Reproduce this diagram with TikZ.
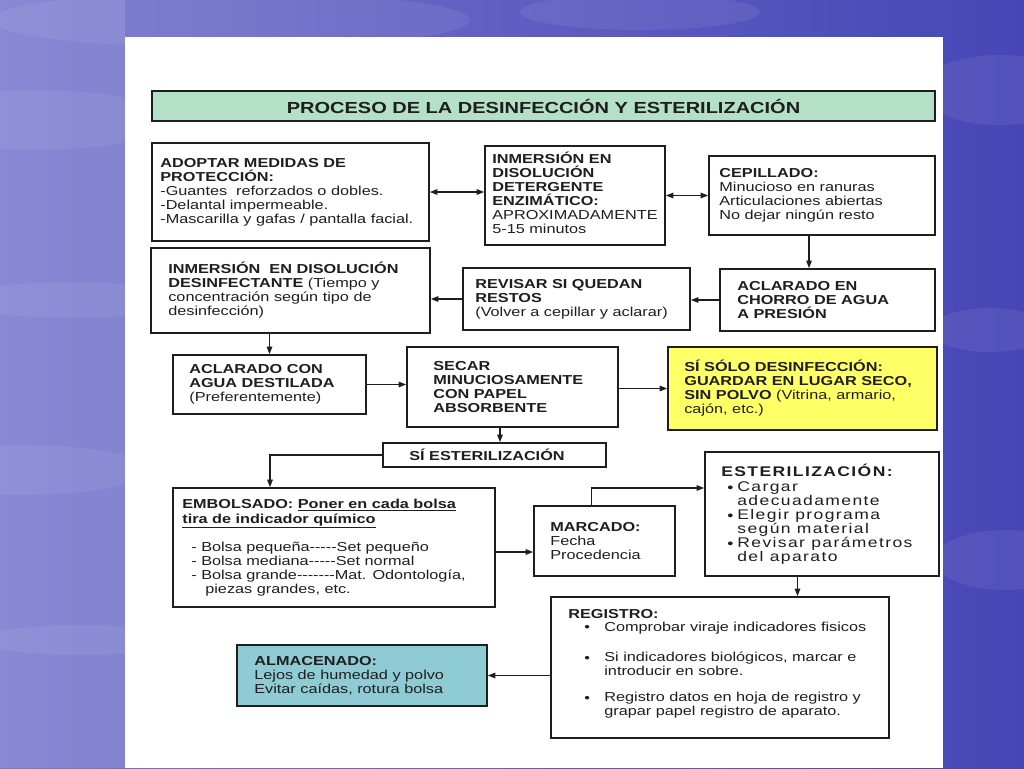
\documentclass[tikz,border=0pt]{standalone}
\usepackage{fontspec}
\usepackage{graphicx}
\setmainfont{Liberation Sans}[FakeStretch=1.25]
\newfontfamily\mfont{Liberation Sans}[FakeStretch=1.25,LetterSpace=10]
\usetikzlibrary{arrows.meta}
\definecolor{bgdeep}{RGB}{70,70,182}
\definecolor{bglight}{RGB}{120,120,206}
\definecolor{titlegreen}{RGB}{180,224,200}
\definecolor{boxyellow}{RGB}{255,255,102}
\definecolor{boxteal}{RGB}{143,203,212}
\definecolor{ink}{RGB}{30,30,30}
\newcommand{\bulM}{\makebox[10pt][l]{\raisebox{-0.8pt}{\textbullet}}}
\newcommand{\bulN}{\makebox[20pt][l]{\raisebox{-0.8pt}{\textbullet}}}
\begin{document}
\begin{tikzpicture}[x=1pt,y=-1pt,
  box/.style={draw=ink, line width=1.7pt, fill=white, inner sep=0pt},
  txt/.style={inner sep=0pt, align=left, anchor=west, text=ink,
     font=\fontsize{13}{14}\selectfont},
  conn/.style={draw=ink, line width=1.3pt, -{Triangle[length=7.5pt,width=5.5pt]}},
  dconn/.style={draw=ink, line width=1.3pt, {Triangle[length=7.5pt,width=5.5pt]}-{Triangle[length=7.5pt,width=5.5pt]}},
  streak/.style={white, opacity=0.07}]
\useasboundingbox (0,0) rectangle (1024,768);
% background
\shade[left color=bglight, right color=bgdeep] (0,0) rectangle (1024,768);
\fill[white, opacity=0.12] (0,0) rectangle (125,768);
\fill[streak] (30,120) ellipse [x radius=140, y radius=30];
\fill[streak] (70,300) ellipse [x radius=110, y radius=18];
\fill[streak] (20,470) ellipse [x radius=130, y radius=25];
\fill[streak] (80,640) ellipse [x radius=100, y radius=15];
\fill[streak] (230,20) ellipse [x radius=240, y radius=28];
\fill[streak] (640,12) ellipse [x radius=120, y radius=18];
\fill[streak] (1000,90) ellipse [x radius=80, y radius=35];
\fill[streak] (990,330) ellipse [x radius=60, y radius=22];
\fill[streak] (1005,560) ellipse [x radius=70, y radius=30];
% panel
\fill[white] (125,37) rectangle (943,768);

% title
\node[box, fill=titlegreen, minimum width=783pt, minimum height=30pt,
  font=\fontsize{16}{18}\selectfont\bfseries, text=ink] (T) at (543.5,106)
  {PROCESO DE LA DESINFECCIÓN Y ESTERILIZACIÓN};

% boxes
\node[box, minimum width=277pt, minimum height=98pt] (A) at (290.5,192) {};
\node[box, minimum width=180pt, minimum height=99pt] (B) at (575,195.5) {};
\node[box, minimum width=226pt, minimum height=79pt] (C) at (822,195.5) {};
\node[box, minimum width=215pt, minimum height=62pt] (D) at (827.5,300) {};
\node[box, minimum width=227pt, minimum height=62pt] (E) at (576.5,299) {};
\node[box, minimum width=279pt, minimum height=85pt] (F) at (290.5,290.5) {};
\node[box, minimum width=193pt, minimum height=59pt] (G) at (269.5,384.5) {};
\node[box, minimum width=211pt, minimum height=80pt] (H) at (512.5,387) {};
\node[box, fill=boxyellow, minimum width=269pt, minimum height=83pt] (I) at (802.5,388.5) {};
\node[box, minimum width=223pt, minimum height=24pt] (J) at (494.5,455) {};
\node[box, minimum width=322pt, minimum height=119pt] (K) at (334,547.5) {};
\node[box, minimum width=141pt, minimum height=70pt] (L) at (604.5,541) {};
\node[box, minimum width=234pt, minimum height=124pt] (M) at (822,514) {};
\node[box, minimum width=338pt, minimum height=141pt] (N) at (720,667.5) {};
\node[box, fill=boxteal, minimum width=250pt, minimum height=61pt] (O) at (362,675.5) {};

% texts
\node[txt] (At) at ([xshift=9pt]A.west) {\textbf{ADOPTAR MEDIDAS DE}\\
  \textbf{PROTECCIÓN:}\\
  -Guantes\ \ reforzados o dobles.\\
  -Delantal impermeable.\\
  -Mascarilla y gafas / pantalla facial.};
\node[txt] (Bt) at ([xshift=8pt,yshift=2.5pt]B.west) {\textbf{INMERSIÓN EN}\\
  \textbf{DISOLUCIÓN}\\
  \textbf{DETERGENTE}\\
  \textbf{ENZIMÁTICO:}\\
  APROXIMADAMENTE\\
  5-15 minutos};
\node[txt] (Ct) at ([xshift=11pt]C.west) {\textbf{CEPILLADO:}\\
  Minucioso en ranuras\\
  Articulaciones abiertas\\
  No dejar ningún resto};
\node[txt] (Dt) at ([xshift=18pt]D.west) {\textbf{ACLARADO EN}\\
  \textbf{CHORRO DE AGUA}\\
  \textbf{A PRESIÓN}};
\node[txt] (Et) at ([xshift=13pt]E.west) {\textbf{REVISAR SI QUEDAN}\\
  \textbf{RESTOS}\\
  (Volver a cepillar y aclarar)};
\node[txt] (Ft) at ([xshift=18pt]F.west) {\textbf{INMERSIÓN\ \ EN DISOLUCIÓN}\\
  \textbf{DESINFECTANTE} (Tiempo y\\
  concentración según tipo de\\
  desinfección)};
\node[txt] (Gt) at ([xshift=17pt]G.west) {\textbf{ACLARADO CON}\\
  \textbf{AGUA DESTILADA}\\
  (Preferentemente)};
\node[txt] (Ht) at ([xshift=27pt]H.west) {\textbf{SECAR}\\
  \textbf{MINUCIOSAMENTE}\\
  \textbf{CON PAPEL}\\
  \textbf{ABSORBENTE}};
\node[txt] (It) at ([xshift=17pt]I.west) {\textbf{SÍ SÓLO DESINFECCIÓN:}\\
  \textbf{GUARDAR EN LUGAR SECO,}\\
  \textbf{SIN POLVO} (Vitrina, armario,\\
  cajón, etc.)};
\node[txt] (Jt) at ([xshift=27pt]J.west) {\textbf{SÍ ESTERILIZACIÓN}};
\node[txt] (Kt) at ([xshift=10pt]K.west) {\textbf{EMBOLSADO: \underline{Poner en cada bolsa}}\\[1pt]
  \textbf{\underline{tira de indicador químico}}\\[13pt]
  \hspace*{9pt}- Bolsa pequeña-{}-{}-{}-{}-Set pequeño\\
  \hspace*{9pt}- Bolsa mediana-{}-{}-{}-{}-Set normal\\
  \hspace*{9pt}- Bolsa grande-{}-{}-{}-{}-{}-{}-Mat. Odontología,\\
  \hspace*{23pt}piezas grandes, etc.};
\node[txt] (Lt) at ([xshift=17pt]L.west) {\textbf{MARCADO:}\\
  Fecha\\
  Procedencia};
\node[txt, font=\mfont\fontsize{14}{14}\selectfont] (Mt) at ([xshift=17pt]M.west)
  {\textbf{ESTERILIZACIÓN:}\\[1pt]
  \hspace*{6pt}\bulM Cargar\\
  \hspace*{16pt}adecuadamente\\
  \hspace*{6pt}\bulM Elegir programa\\
  \hspace*{16pt}según material\\
  \hspace*{6pt}\bulM Revisar parámetros\\
  \hspace*{16pt}del aparato};
\node[txt] (Nt) at ([xshift=18pt,yshift=4pt]N.west) {\textbf{REGISTRO:}\\[-1pt]
  \hspace*{16pt}\bulN Comprobar viraje indicadores fisicos\\[16pt]
  \hspace*{16pt}\bulN Si indicadores biológicos, marcar e\\
  \hspace*{36pt}introducir en sobre.\\[12pt]
  \hspace*{16pt}\bulN Registro datos en hoja de registro y\\
  \hspace*{36pt}grapar papel registro de aparato.};
\node[txt] (Ot) at ([xshift=18pt]O.west) {\textbf{ALMACENADO:}\\
  Lejos de humedad y polvo\\
  Evitar caídas, rotura bolsa};

% connectors
\draw[dconn] (A.east) -- (A.east -| B.west);
\draw[dconn] (B.east) -- (C.west);
\draw[conn] ([xshift=-13pt]C.south) -- ([xshift=-13pt]C.south |- D.north);
\draw[conn] (D.west) -- (D.west -| E.east);
\draw[conn] (E.west) -- (E.west -| F.east);
\draw[conn] (G.north |- F.south) -- (G.north);
\draw[conn] (G.east) -- (G.east -| H.west);
\draw[conn] (I.west -| H.east) -- (I.west);
\draw[conn] ([xshift=-12.5pt]H.south) -- ([xshift=-12.5pt]H.south |- J.north);
\draw[conn] (J.west) -| ([xshift=-64pt]K.north);
\draw[conn] ([yshift=-4.5pt]K.east) -- ([yshift=-4.5pt]K.east -| L.west);
\draw[conn] ([xshift=-13pt]L.north) |- ([yshift=26pt]M.west);
\draw[conn] ([xshift=-24.5pt]M.south) -- ([xshift=-24.5pt]M.south |- N.north);
\draw[conn] (N.west |- O.east) -- (O.east);
\end{tikzpicture}
\end{document}
